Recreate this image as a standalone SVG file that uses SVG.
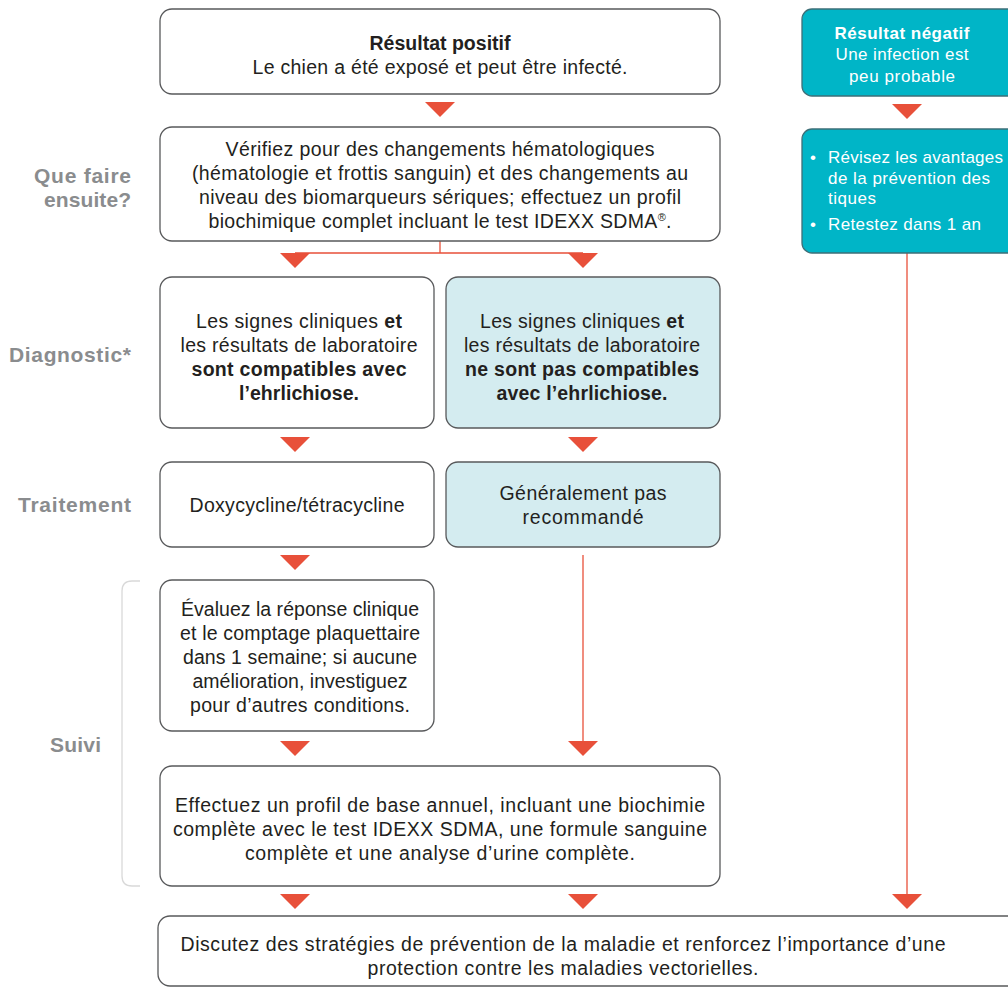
<svg xmlns="http://www.w3.org/2000/svg" width="1008" height="988" viewBox="0 0 1008 988">
<defs>
<style>
.box{fill:#fff;stroke:#58595b;stroke-width:1.3}
.lb{fill:#d4ecf0;stroke:#58595b;stroke-width:1.3}
.tl{fill:#00b5c7;stroke:#3d6f78;stroke-width:1.3}
.t{font-family:"Liberation Sans",Arial,sans-serif;font-size:19.5px;fill:#231f20;text-anchor:middle}
.w{font-family:"Liberation Sans",Arial,sans-serif;font-size:17px;fill:#fff}
.b{font-weight:bold}
.lab{font-family:"Liberation Sans",Arial,sans-serif;font-size:21px;font-weight:bold;fill:#8a8c8e;text-anchor:end}
.ln{stroke:#e8503a;stroke-width:1.3;fill:none}
.ar{fill:#e8503a}
</style>
<path id="tri" d="M-15,0 L15,0 L0,15 Z"/>
</defs>

<g id="labels">
<text class="lab" x="131" y="183" textLength="97" lengthAdjust="spacing">Que faire</text>
<text class="lab" x="131" y="207" textLength="87" lengthAdjust="spacing">ensuite?</text>
<text class="lab" x="131" y="362" textLength="122" lengthAdjust="spacing">Diagnostic*</text>
<text class="lab" x="131" y="512" textLength="113" lengthAdjust="spacing">Traitement</text>
<text class="lab" x="101" y="752" textLength="51" lengthAdjust="spacing">Suivi</text>
<path d="M140,581 H132 Q122,581 122,591 V876 Q122,886 132,886 H140" fill="none" stroke="#d9d9d9" stroke-width="1.3"/>
</g>

<g id="connectors">
<path class="ln" d="M440,241 V253 M295,253 H583"/>
<path class="ln" d="M583,555 V742"/>
<path class="ln" d="M907,253 V896"/>
<use href="#tri" class="ar" x="440" y="102"/>
<use href="#tri" class="ar" x="295" y="253"/>
<use href="#tri" class="ar" x="583" y="253"/>
<use href="#tri" class="ar" x="295" y="437"/>
<use href="#tri" class="ar" x="583" y="437"/>
<use href="#tri" class="ar" x="295" y="555"/>
<use href="#tri" class="ar" x="295" y="741"/>
<use href="#tri" class="ar" x="583" y="741"/>
<use href="#tri" class="ar" x="295" y="894"/>
<use href="#tri" class="ar" x="583" y="894"/>
<use href="#tri" class="ar" x="907" y="894"/>
<use href="#tri" class="ar" x="907" y="104"/>
</g>

<g id="positif">
<rect class="box" x="160" y="9" width="560" height="85" rx="12"/>
<text class="t b" x="440" y="50" textLength="141" lengthAdjust="spacing">Résultat positif</text>
<text class="t" x="440" y="74" textLength="375" lengthAdjust="spacing">Le chien a été exposé et peut être infecté.</text>
</g>

<g id="verifiez">
<rect class="box" x="160" y="127" width="560" height="114" rx="12"/>
<text class="t" x="440" y="156" textLength="429" lengthAdjust="spacing">Vérifiez pour des changements hématologiques</text>
<text class="t" x="440" y="180" textLength="496" lengthAdjust="spacing">(hématologie et frottis sanguin) et des changements au</text>
<text class="t" x="440" y="204" textLength="482" lengthAdjust="spacing">niveau des biomarqueurs sériques; effectuez un profil</text>
<text class="t" x="440" y="228" textLength="463" lengthAdjust="spacing">biochimique complet incluant le test IDEXX SDMA<tspan font-size="11" dy="-7">®</tspan><tspan dy="7">.</tspan></text>
</g>

<g id="compatibles">
<rect class="box" x="160" y="277" width="274" height="151" rx="12"/>
<text class="t" x="299" y="328" textLength="206" lengthAdjust="spacing">Les signes cliniques <tspan class="b">et</tspan></text>
<text class="t" x="299" y="352" textLength="237" lengthAdjust="spacing">les résultats de laboratoire</text>
<text class="t b" x="299" y="376" textLength="215" lengthAdjust="spacing">sont compatibles avec</text>
<text class="t b" x="299" y="400" textLength="120" lengthAdjust="spacing">l’ehrlichiose.</text>
</g>

<g id="non-compatibles">
<rect class="lb" x="446" y="277" width="274" height="151" rx="12"/>
<text class="t" x="582" y="328" textLength="204" lengthAdjust="spacing">Les signes cliniques <tspan class="b">et</tspan></text>
<text class="t" x="582" y="352" textLength="236" lengthAdjust="spacing">les résultats de laboratoire</text>
<text class="t b" x="582" y="376" textLength="234" lengthAdjust="spacing">ne sont pas compatibles</text>
<text class="t b" x="582" y="400" textLength="171" lengthAdjust="spacing">avec l’ehrlichiose.</text>
</g>

<g id="doxy">
<rect class="box" x="160" y="462" width="274" height="85" rx="12"/>
<text class="t" x="297" y="512" textLength="215" lengthAdjust="spacing">Doxycycline/tétracycline</text>
</g>

<g id="pas-recommande">
<rect class="lb" x="446" y="462" width="274" height="85" rx="12"/>
<text class="t" x="583" y="500" textLength="167" lengthAdjust="spacing">Généralement pas</text>
<text class="t" x="583" y="524" textLength="121" lengthAdjust="spacing">recommandé</text>
</g>

<g id="evaluez">
<rect class="box" x="160" y="580" width="274" height="151" rx="12"/>
<text class="t" x="300" y="616" textLength="238" lengthAdjust="spacing">Évaluez la réponse clinique</text>
<text class="t" x="300" y="640" textLength="240" lengthAdjust="spacing">et le comptage plaquettaire</text>
<text class="t" x="300" y="664" textLength="234" lengthAdjust="spacing">dans 1 semaine; si aucune</text>
<text class="t" x="300" y="688" textLength="215" lengthAdjust="spacing">amélioration, investiguez</text>
<text class="t" x="300" y="712" textLength="220" lengthAdjust="spacing">pour d’autres conditions.</text>
</g>

<g id="profil">
<rect class="box" x="160" y="766" width="560" height="120" rx="12"/>
<text class="t" x="440" y="812" textLength="530" lengthAdjust="spacing">Effectuez un profil de base annuel, incluant une biochimie</text>
<text class="t" x="440" y="836" textLength="534" lengthAdjust="spacing">complète avec le test IDEXX SDMA, une formule sanguine</text>
<text class="t" x="440" y="860" textLength="390" lengthAdjust="spacing">complète et une analyse d’urine complète.</text>
</g>

<g id="discutez">
<rect class="box" x="158" y="916" width="862" height="70" rx="12"/>
<text class="t" x="563" y="951" textLength="765" lengthAdjust="spacing">Discutez des stratégies de prévention de la maladie et renforcez l’importance d’une</text>
<text class="t" x="563" y="975" textLength="391" lengthAdjust="spacing">protection contre les maladies vectorielles.</text>
</g>

<g id="negatif">
<rect class="tl" x="802" y="9" width="216" height="87" rx="10"/>
<text class="w b" x="902" y="39" text-anchor="middle" textLength="135" lengthAdjust="spacing">Résultat négatif</text>
<text class="w" x="902" y="60" text-anchor="middle" textLength="133" lengthAdjust="spacing">Une infection est</text>
<text class="w" x="902" y="82" text-anchor="middle" textLength="106" lengthAdjust="spacing">peu probable</text>
</g>

<g id="revisez">
<rect class="tl" x="802" y="129" width="216" height="124" rx="10"/>
<text class="w" x="810" y="163">•</text>
<text class="w" x="828" y="163" textLength="175" lengthAdjust="spacing">Révisez les avantages</text>
<text class="w" x="828" y="184" textLength="162" lengthAdjust="spacing">de la prévention des</text>
<text class="w" x="828" y="204" textLength="48" lengthAdjust="spacing">tiques</text>
<text class="w" x="810" y="230">•</text>
<text class="w" x="828" y="230" textLength="153" lengthAdjust="spacing">Retestez dans 1 an</text>
</g>
</svg>
